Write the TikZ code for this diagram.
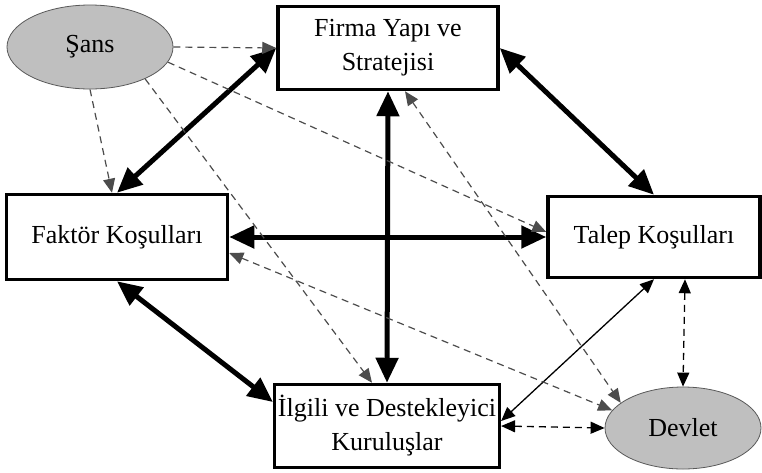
\documentclass[tikz,border=0pt]{standalone}
\usepackage{fontspec}
\setmainfont{Liberation Serif}
\usetikzlibrary{arrows.meta,shapes,positioning}

\begin{document}
\begin{tikzpicture}[x=1pt,y=-1pt,
        box/.style={rectangle, draw, line width=3.5pt, align=center, font=\fontsize{26}{34}\selectfont},
        blob/.style={ellipse, draw=black!65, line width=0.8pt, fill=black!25, font=\fontsize{26}{34}\selectfont},
        strong/.style={{Triangle[length=25pt,width=22pt]}-{Triangle[length=25pt,width=22pt]}, line width=5pt},
        thin/.style={{Triangle[length=14pt,width=12pt]}-{Triangle[length=14pt,width=12pt]}, line width=1.3pt},
        weak/.style={-{Triangle[length=14pt,width=12pt]}, draw=black!70, line width=1.2pt, dash pattern=on 7pt off 5pt},
        weakboth/.style={{Triangle[length=14pt,width=12pt]}-{Triangle[length=14pt,width=12pt]}, draw=black!70, line width=1.2pt, dash pattern=on 7pt off 5pt},
        both/.style={{Triangle[length=14pt,width=12pt]}-{Triangle[length=14pt,width=12pt]}, line width=1.3pt, dash pattern=on 7pt off 5pt}]
        \useasboundingbox (0,0) rectangle (762,472);
        % the four corners and the two outside forces
        \node[box, minimum width=220pt, minimum height=83pt] (Firma) at (388,48) {Firma Yapı ve\\Stratejisi};
        \node[box, minimum width=221pt, minimum height=85pt] (Faktor) at (117,237) {Faktör Koşulları};
        \node[box, minimum width=212pt, minimum height=81pt] (Talep) at (654,237) {Talep Koşulları};
        \node[box, minimum width=219pt, minimum height=83pt] (Ilgili) at (387,426) {İlgili ve Destekleyici\\Kuruluşlar};
        \node[blob, minimum width=166pt, minimum height=84pt] (Sans) at (90,47) {Şans};
        \node[blob, minimum width=156pt, minimum height=82pt] (Devlet) at (683,428) {Devlet};
        % strong links
        \draw[strong] (Firma.west) -- (Faktor.north);
        \draw[strong] (Firma.east) -- (Talep.north);
        \draw[strong] (Firma.south) -- (Ilgili.north);
        \draw[strong] (Faktor.east) -- (Talep.west);
        \draw[strong] (Faktor.south) -- ([yshift=24pt]Ilgili.west);
        \draw[thin] ([yshift=5pt]Ilgili.east) -- (Talep.south);
        % chance
        \draw[weak] (Sans.east) -- (Firma.west);
        \draw[weak] (Sans.south) -- ([xshift=-5pt]Faktor.north);
        \draw[weak] (Sans.-30) -- ([xshift=-15pt]Ilgili.north);
        \draw[weak] (Sans.-11) -- ([yshift=5pt]Talep.west);
        % government
        \draw[weakboth] ([xshift=17pt]Firma.south) -- (Devlet.158);
        \draw[weakboth] ([yshift=-16pt]Faktor.east) -- (Devlet.166);
        \draw[both] ([xshift=31pt]Talep.south) -- (Devlet.north);
        \draw[both] (Ilgili.east) -- (Devlet.west);
      \end{tikzpicture}
\end{document}
